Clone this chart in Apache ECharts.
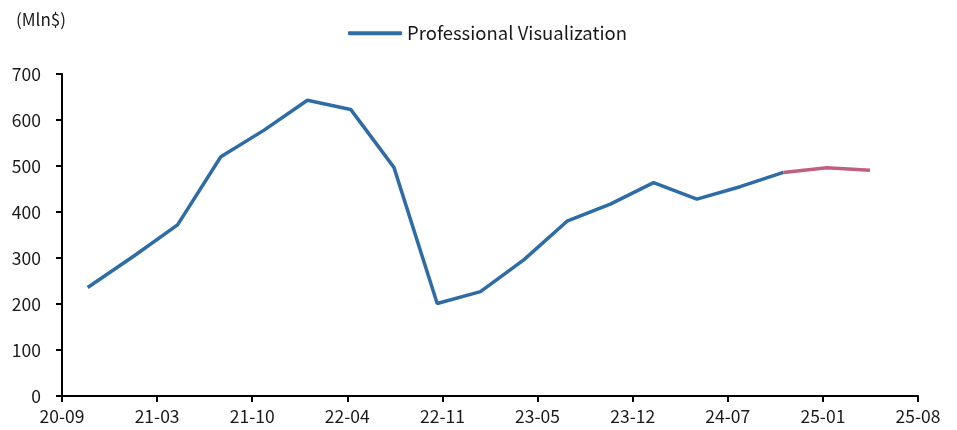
<!DOCTYPE html>
<html>
<head>
<meta charset="utf-8">
<script src="https://cdn.jsdelivr.net/npm/echarts@6/dist/echarts.min.js"></script>
<style>
  html, body { margin: 0; padding: 0; background: #fff; }
  #chart { width: 957px; height: 430px; }
</style>
</head>
<body>
<div id="chart"></div>
<script>
// quarter-end dates (fiscal quarters) and revenue, Mln$
const quarters = [
  "2020-10-25", "2021-01-31", "2021-05-02", "2021-08-01", "2021-10-31",
  "2022-01-30", "2022-05-01", "2022-07-31", "2022-10-30", "2023-01-29",
  "2023-04-30", "2023-07-30", "2023-10-29", "2024-01-28", "2024-04-28",
  "2024-07-28", "2024-10-27", "2025-01-26", "2025-04-27"
];
const proViz = [
  236, 305, 372, 520, 578, 643, 623, 497, 201, 227,
  296, 380, 417, 464, 428, 455, 486, 496, 491
];
// index where the estimate (pink) segment starts
const estimateFrom = 16;

// x axis: days counted from the axis origin, labels every 200 days
const axisOrigin = "2020-09-01";
const xTickDays = 200;
const xMaxDays = 1800;
const yTicks = [0, 100, 200, 300, 400, 500, 600, 700];

const DAY = 86400000;
const originMs = Date.parse(axisOrigin);
const toDays = (s) => Math.round((Date.parse(s) - originMs) / DAY);
const fmtDays = (d) => {
  const dt = new Date(originMs + d * DAY);
  const yy = String(dt.getUTCFullYear()).slice(2);
  const mm = String(dt.getUTCMonth() + 1).padStart(2, "0");
  return yy + "-" + mm;
};

const points = quarters.map((q, i) => [toDays(q), proViz[i]]);
const actual = points.slice(0, estimateFrom + 1);
const estimate = points.slice(estimateFrom);

const BLUE = "#2E6CA6";
const PINK = "#C0607F";
const FONT = "'Noto Sans CJK KR', 'Noto Sans', sans-serif";
const TEXT = "#1a1a1a";

const chart = echarts.init(document.getElementById("chart"));
chart.setOption({
  animation: false,
  title: {
    text: "(Mln$)",
    left: 11,
    top: 6,
    textStyle: { fontFamily: FONT, fontSize: 17, fontWeight: "normal", color: TEXT },
  },
  legend: {
    data: ["Professional Visualization"],
    left: 343,
    top: 19,
    icon: "roundRect",
    itemWidth: 54,
    itemHeight: 4,
    itemGap: 10,
    textStyle: { fontFamily: FONT, fontSize: 18.5, color: TEXT },
  },
  grid: { left: 62, right: 39, top: 74, bottom: 34, containLabel: false },
  xAxis: {
    type: "value",
    min: 0,
    max: xMaxDays,
    interval: xTickDays,
    splitLine: { show: false },
    axisLine: { lineStyle: { color: "#000", width: 2 } },
    axisTick: { show: true, length: 6, lineStyle: { color: "#000", width: 2 } },
    axisLabel: {
      margin: 12,
      fontFamily: FONT,
      fontSize: 17.5,
      color: TEXT,
      showMinLabel: true,
      showMaxLabel: true,
      formatter: (v) => fmtDays(v),
    },
  },
  yAxis: {
    type: "value",
    min: yTicks[0],
    max: yTicks[yTicks.length - 1],
    interval: yTicks[1] - yTicks[0],
    splitLine: { show: false },
    axisLine: { show: true, lineStyle: { color: "#000", width: 2 } },
    axisTick: { show: true, length: 6, lineStyle: { color: "#000", width: 2 } },
    axisLabel: { margin: 21, fontFamily: FONT, fontSize: 17.5, color: TEXT },
  },
  series: [
    {
      name: "Professional Visualization",
      type: "line",
      data: actual,
      showSymbol: false,
      symbol: "none",
      lineStyle: { color: BLUE, width: 3.5 },
      itemStyle: { color: BLUE },
    },
    {
      name: "Estimate",
      type: "line",
      data: estimate,
      showSymbol: false,
      symbol: "none",
      lineStyle: { color: PINK, width: 3.5 },
      itemStyle: { color: PINK },
    },
  ],
});
</script>
</body>
</html>
